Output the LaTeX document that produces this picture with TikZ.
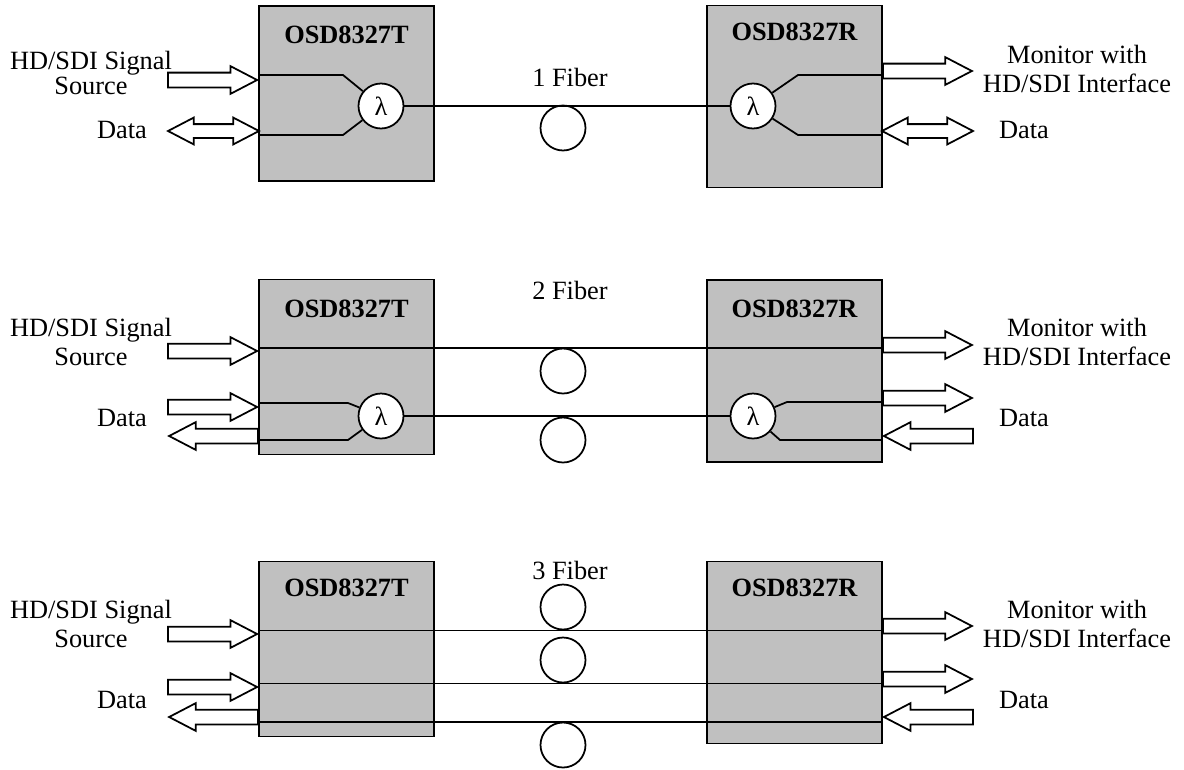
\documentclass[tikz,border=0pt]{standalone}
\usepackage{fontspec}
\setmainfont{Liberation Serif}
\usetikzlibrary{shapes.arrows, positioning}
\definecolor{boxgray}{RGB}{192,192,192}

\begin{document}
\begin{tikzpicture}[
    font=\fontsize{15}{17}\selectfont,
    txbox/.style={rectangle, draw=black, line width=1pt, fill=boxgray,
                  minimum width=3.5cm, minimum height=3.5cm},
    rxbox/.style={txbox, minimum height=3.64cm},
    boxtitle/.style={font=\fontsize{15}{17}\selectfont\bfseries, inner sep=0pt},
    lambda/.style={circle, draw, line width=1pt, fill=white,
                   minimum size=0.9cm, inner sep=0pt},
    fiber/.style={circle, draw, line width=1pt, minimum size=0.9cm, inner sep=0pt},
    lbl/.style={align=center, inner sep=0pt},
    toright/.style={single arrow, draw, line width=1pt, fill=white,
                    inner xsep=0pt, inner ysep=0.13cm, minimum height=1.78cm,
                    single arrow head extend=0.13cm, single arrow tip angle=55},
    toleft/.style={toright, shape border rotate=180},
    twoway/.style={double arrow, draw, line width=1pt, fill=white,
                   inner xsep=0pt, inner ysep=0.12cm, minimum height=1.82cm,
                   double arrow head extend=0.13cm, double arrow tip angle=55},
    fib/.style={line width=1pt}
]
\useasboundingbox (0,0) rectangle (23.68,-15.38);

% 1 fiber
\node[txbox] (T1) at (6.93,-1.87) {};
\node[rxbox] (R1) at (15.89,-1.93) {};
\node[boxtitle] (T1t) at (6.93,-0.70) {OSD8327T};
\node[boxtitle] (R1t) at (15.89,-0.64) {OSD8327R};
\node[lambda] (lT1) at (7.62,-2.12) {λ};
\node[lambda] (lR1) at (15.06,-2.12) {λ};
\node[fiber] (f1) at (11.26,-2.56) {};
\node (f1t) at (11.40,-1.54) {1 Fiber};
\coordinate (bT1u) at (6.86,-1.50);
\coordinate (bT1d) at (6.86,-2.70);
\coordinate (bR1u) at (15.96,-1.50);
\coordinate (bR1d) at (15.96,-2.70);
\draw[fib] (T1.west |- bT1u) -- (bT1u) -- (lT1);
\draw[fib] (T1.west |- bT1d) -- (bT1d) -- (lT1);
\draw[fib] (lT1) -- (lR1);
\draw[fib] (lR1) -- (bR1u) -- (R1.east |- bR1u);
\draw[fib] (lR1) -- (bR1d) -- (R1.east |- bR1d);
\node[toright, anchor=tip] (inT1) at (5.18,-1.60) {};
\node[twoway] (dT1) at (4.27,-2.62) {};
\node[toright, anchor=tail] (outR1) at (17.64,-1.42) {};
\node[twoway] (dR1) at (18.55,-2.62) {};
\node[lbl] (srcT1) at (1.82,-1.46) {HD/SDI Signal\\[-3pt]Source};
\node[lbl] (datT1) at (2.44,-2.60) {Data};
\node[lbl] (monR1) at (21.54,-1.38) {Monitor with\\HD/SDI Interface};
\node[lbl] (datR1) at (20.48,-2.60) {Data};

% 2 fiber
\node[txbox] (T2) at (6.93,-7.34) {};
\node[rxbox] (R2) at (15.89,-7.42) {};
\node[boxtitle] (T2t) at (6.93,-6.18) {OSD8327T};
\node[boxtitle] (R2t) at (15.89,-6.18) {OSD8327R};
\node[lambda] (lT2) at (7.62,-8.32) {λ};
\node[lambda] (lR2) at (15.06,-8.32) {λ};
\node[fiber] (f2a) at (11.26,-7.42) {};
\node[fiber] (f2b) at (11.26,-8.80) {};
\node (f2t) at (11.40,-5.80) {2 Fiber};
\coordinate (bT2u) at (6.96,-8.06);
\coordinate (bT2d) at (6.96,-8.80);
\coordinate (bR2u) at (15.74,-8.04);
\coordinate (bR2d) at (15.60,-8.80);
\draw[fib] (T2.west |- f2a.north) -- (R2.east |- f2a.north);
\draw[fib] (T2.west |- bT2u) -- (bT2u) -- (lT2);
\draw[fib] (T2.west |- bT2d) -- (bT2d) -- (lT2);
\draw[fib] (lT2) -- (lR2);
\draw[fib] (lR2) -- (bR2u) -- (R2.east |- bR2u);
\draw[fib] (lR2) -- (bR2d) -- (R2.east |- bR2d);
\node[toright, anchor=tip] (inT2) at (5.18,-7.02) {};
\node[toright, anchor=tip] (dinT2) at (5.18,-8.14) {};
\node[toleft, anchor=tail] (doutT2) at (5.18,-8.72) {};
\node[toright, anchor=tail] (outR2) at (17.64,-6.90) {};
\node[toright, anchor=tail] (doutR2) at (17.64,-7.96) {};
\node[toleft, anchor=tip] (dinR2) at (17.64,-8.72) {};
\node[lbl] (srcT2) at (1.82,-6.84) {HD/SDI Signal\\Source};
\node[lbl] (datT2) at (2.44,-8.36) {Data};
\node[lbl] (monR2) at (21.54,-6.84) {Monitor with\\HD/SDI Interface};
\node[lbl] (datR2) at (20.48,-8.36) {Data};

% 3 fiber
\node[txbox] (T3) at (6.93,-12.98) {};
\node[rxbox] (R3) at (15.89,-13.05) {};
\node[boxtitle] (T3t) at (6.93,-11.76) {OSD8327T};
\node[boxtitle] (R3t) at (15.89,-11.76) {OSD8327R};
\node[fiber] (f3a) at (11.26,-12.14) {};
\node[fiber] (f3b) at (11.26,-13.20) {};
\node[fiber] (f3c) at (11.26,-14.90) {};
\node (f3t) at (11.40,-11.40) {3 Fiber};
\draw[fib] (T3.west |- f3a.south) -- (R3.east |- f3a.south);
\draw[fib] (T3.west |- f3b.south) -- (R3.east |- f3b.south);
\draw[fib] (T3.west |- f3c.north) -- (R3.east |- f3c.north);
\node[toright, anchor=tip] (inT3) at (5.18,-12.68) {};
\node[toright, anchor=tip] (dinT3) at (5.18,-13.74) {};
\node[toleft, anchor=tail] (doutT3) at (5.18,-14.34) {};
\node[toright, anchor=tail] (outR3) at (17.64,-12.52) {};
\node[toright, anchor=tail] (doutR3) at (17.64,-13.58) {};
\node[toleft, anchor=tip] (dinR3) at (17.64,-14.34) {};
\node[lbl] (srcT3) at (1.82,-12.48) {HD/SDI Signal\\Source};
\node[lbl] (datT3) at (2.44,-14.00) {Data};
\node[lbl] (monR3) at (21.54,-12.48) {Monitor with\\HD/SDI Interface};
\node[lbl] (datR3) at (20.48,-14.00) {Data};

\end{tikzpicture}
\end{document}
